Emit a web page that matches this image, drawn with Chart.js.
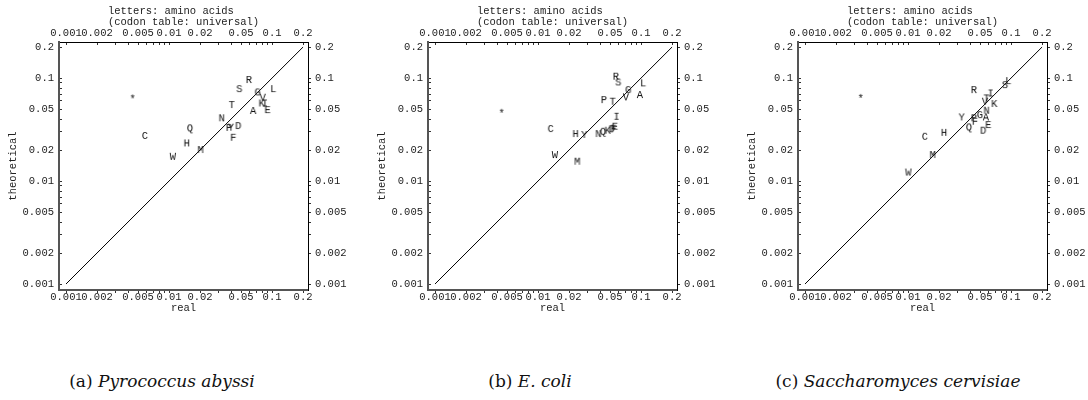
<!DOCTYPE html>
<html>
<head>
<meta charset="utf-8">
<script src="https://cdn.jsdelivr.net/npm/chart.js@4/dist/chart.umd.min.js"></script>
<style>
  body { margin: 0; background: #fff; width: 1088px; height: 400px; position: relative; overflow: hidden; }
  canvas { position: absolute; top: 0; }
  .cap { position: absolute; top: 371px; width: 340px; text-align: center;
         font-family: "DejaVu Serif", serif; font-size: 17px; color: #111; }
  .cap i { font-style: italic; }
</style>
</head>
<body>
<canvas id="pa" width="349" height="320" style="left:0px"></canvas>
<canvas id="pb" width="349" height="320" style="left:369px"></canvas>
<canvas id="pc" width="349" height="320" style="left:739px"></canvas>
<div class="cap" style="left:-8px">(a) <i>Pyrococcus abyssi</i></div>
<div class="cap" style="left:360px">(b) <i>E. coli</i></div>
<div class="cap" style="left:728px">(c) <i>Saccharomyces cervisiae</i></div>

<script>
// letters: amino acids, * = stop codon
const aminoAcids = ['*','A','C','D','E','F','G','H','I','K','L','M','N','P','Q','R','S','T','V','W','Y'];

// Pyrococcus abyssi
const pabReal = [0.00444,0.0657,0.00585,0.0471,0.0907,0.0421,0.0726,0.0149,0.0855,0.0794,0.103,0.0203,0.0325,0.0383,0.0160,0.0598,0.0482,0.0407,0.0813,0.0109,0.0400];
const pabTheo = [0.0650,0.0479,0.0274,0.0342,0.0489,0.0263,0.0726,0.0232,0.0567,0.0567,0.0782,0.0200,0.0407,0.0328,0.0325,0.0957,0.0782,0.0547,0.0644,0.0172,0.0330];

// E. coli
const ecoReal = [0.00444,0.0977,0.0133,0.0520,0.0560,0.0541,0.0753,0.0232,0.0580,0.0475,0.105,0.0241,0.0386,0.0437,0.0428,0.0571,0.0602,0.0531,0.0714,0.0146,0.0282];
const ecoTheo = [0.0471,0.0684,0.0320,0.0318,0.0337,0.0322,0.0764,0.0286,0.0421,0.0308,0.0889,0.0154,0.0286,0.0611,0.0301,0.103,0.0907,0.0589,0.0650,0.0179,0.0280];

// Saccharomyces cervisiae
const scReal = [0.00348,0.0571,0.0146,0.0538,0.0602,0.0447,0.0500,0.0224,0.0635,0.0689,0.0942,0.0174,0.0580,0.0437,0.0391,0.0437,0.0875,0.0580,0.0560,0.0101,0.0332];
const scTheo = [0.0657,0.0415,0.0269,0.0308,0.0350,0.0377,0.0437,0.0294,0.0709,0.0560,0.0935,0.0179,0.0482,0.0407,0.0332,0.0764,0.0855,0.0635,0.0589,0.0121,0.0415];

// axes
const tickValues = [0.001,0.002,0.005,0.01,0.02,0.05,0.1,0.2];
const tickLabels = ['0.001','0.002','0.005','0.01','0.02','0.05','0.1','0.2'];
const minorTicks = [0.003,0.004,0.006,0.007,0.008,0.009,0.03,0.04,0.06,0.07,0.08,0.09];
const diagonal = [0.001, 0.2];
const xRange = [0.000855, 0.2234];
const yRange = [0.000875, 0.224];

const allTicks = tickValues.concat(minorTicks).sort((a, b) => a - b);
const monoFont = { family: '"Liberation Mono", "DejaVu Sans Mono", monospace', size: 10.5, lineHeight: 1.1 };
const ink = '#222';

// little canvases used as point styles, one per letter
const glyphs = {};
aminoAcids.forEach(ch => {
  const c = document.createElement('canvas');
  c.width = 10; c.height = 12;
  const g = c.getContext('2d');
  g.font = '10.5px "Liberation Mono", "DejaVu Sans Mono", monospace';
  g.fillStyle = '#111';
  g.textAlign = 'center';
  g.textBaseline = 'middle';
  g.fillText(ch, 5, ch === '*' ? 8.5 : 6.5);
  glyphs[ch] = c;
});

function logAxis(position, range, tickLen, pad, title, size) {
  const horiz = position === 'top' || position === 'bottom';
  return {
    type: 'logarithmic',
    position: position,
    min: range[0],
    max: range[1],
    bounds: 'data',
    afterBuildTicks: s => { s.ticks = allTicks.map(v => ({ value: v })); },
    afterFit: s => { if (horiz) s.height = size; else s.width = size; },
    grid: { display: true, drawOnChartArea: false, drawTicks: true, tickLength: tickLen, tickColor: '#333', tickWidth: 1 },
    border: {
      display: true,
      color: (position === 'left' || position === 'bottom') ? '#555' : '#000',
      width: (position === 'left' || position === 'bottom') ? 2 : 1
    },
    ticks: {
      autoSkip: false,
      maxRotation: 0,
      minRotation: 0,
      padding: pad,
      color: ink,
      font: monoFont,
      callback: v => {
        const i = tickValues.indexOf(v);
        return i >= 0 ? tickLabels[i] : '';
      }
    },
    title: title
  };
}

function makePanel(id, real, theo) {
  const pts = aminoAcids.map((a, i) => ({ x: real[i], y: theo[i] }));
  const canvas = document.getElementById(id);
  new Chart(canvas, {
    type: 'scatter',
    data: {
      datasets: [
        {
          data: pts,
          pointStyle: ctx => glyphs[aminoAcids[ctx.dataIndex]],
          pointRadius: 3,
          xAxisID: 'x',
          yAxisID: 'y'
        },
        {
          data: diagonal.map(v => ({ x: v, y: v })),
          showLine: true,
          borderColor: '#000',
          borderWidth: 1,
          pointRadius: 0,
          xAxisID: 'x',
          yAxisID: 'y'
        }
      ]
    },
    options: {
      responsive: false,
      animation: false,
      events: [],
      layout: { padding: 0, autoPadding: false },
      plugins: { legend: { display: false }, tooltip: { enabled: false } },
      scales: {
        x: logAxis('bottom', xRange, 3, -2,
          { display: true, text: 'real', color: ink, font: monoFont, padding: { top: 0, bottom: 6 } }, 30),
        x2: logAxis('top', xRange, -3, 6,
          { display: true, text: ['letters: amino acids    ', '(codon table: universal)'], color: ink, font: monoFont, padding: { top: 5, bottom: 0 } }, 42),
        y: logAxis('left', yRange, -3, 8,
          { display: true, text: 'theoretical', color: ink, font: monoFont, padding: { top: 7, bottom: 0 } }, 59),
        y2: logAxis('right', yRange, 3, 4, { display: false }, 41)
      }
    }
  });
}

makePanel('pa', pabReal, pabTheo);
makePanel('pb', ecoReal, ecoTheo);
makePanel('pc', scReal, scTheo);
</script>
</body>
</html>
